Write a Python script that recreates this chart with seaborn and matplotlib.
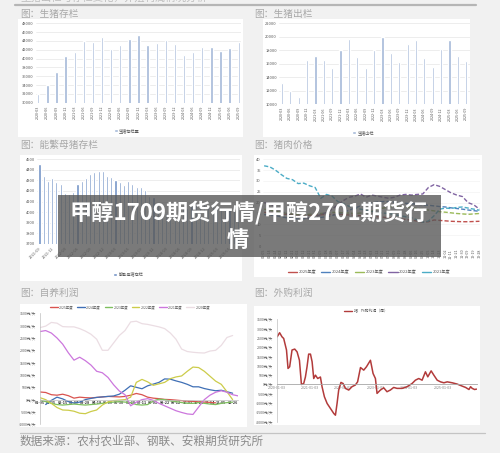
import pandas as pd
import matplotlib.pyplot as plt
import seaborn as sns
from matplotlib.patches import Rectangle
from matplotlib.lines import Line2D

sns.set_style('white')
plt.rcParams['font.family'] = ['Noto Sans CJK SC', 'DejaVu Sans']
plt.rcParams['axes.unicode_minus'] = False

# --- 数据 ---
# 生猪存栏 (季度, 万头)
stock_quarters = ['2020-03', '2020-06', '2020-09', '2020-12', '2021-03', '2021-06', '2021-09', '2021-12',
                  '2022-03', '2022-06', '2022-09', '2022-12', '2023-03', '2023-06', '2023-09', '2023-12',
                  '2024-03', '2024-06', '2024-09', '2024-12', '2025-03', '2025-06', '2025-09']
hog_stock = [32000, 34000, 37000, 40600, 41600, 44000, 43800, 45000, 42200, 43000, 44400, 45300,
             43000, 43500, 44300, 43400, 40800, 41500, 42600, 42700, 41700, 42400, 43700]
# 生猪出栏 (季度, 万头)
hog_slaughter = [13100, 12000, 11100, 16500, 17100, 16600, 15400, 18000, 19600, 17000, 15400, 18000,
                 19900, 17600, 16200, 18900, 19500, 16900, 15600, 18200, 19500, 17100, 16400]
# 能繁母猪存栏 (月度, 万头)
sow_months = ['2021-09', '2021-10', '2021-11', '2021-12', '2022-01', '2022-02', '2022-03', '2022-04',
              '2022-05', '2022-06', '2022-07', '2022-08', '2022-09', '2022-10', '2022-11', '2022-12',
              '2023-01', '2023-02', '2023-03', '2023-04', '2023-05', '2023-06', '2023-07', '2023-08',
              '2023-09', '2023-10', '2023-11', '2023-12', '2024-01', '2024-02', '2024-03', '2024-04',
              '2024-05', '2024-06', '2024-07', '2024-08', '2024-09', '2024-10', '2024-11', '2024-12',
              '2025-01', '2025-02', '2025-03', '2025-04', '2025-05', '2025-06', '2025-07', '2025-08']
sow_stock = [4459, 4340, 4292, 4325, 4285, 4265, 4180, 4170, 4188, 4268, 4290, 4322,
             4360, 4378, 4385, 4385, 4345, 4330, 4300, 4282, 4256, 4290, 4262, 4240,
             4238, 4210, 4155, 4142, 4067, 3986, 3992, 3986, 3996, 4038, 4042, 4036,
             4062, 4073, 4080, 4078, 4062, 4066, 4039, 4038, 4042, 4043, 4042, 4038]
# 猪肉价格 (元/公斤)
price_dates = ['01-05', '01-14', '01-24', '02-02', '02-12', '02-21', '03-02', '03-12', '03-21', '03-31',
               '04-09', '04-18', '04-28', '05-07', '05-17', '05-26', '06-04', '06-14', '06-23', '07-03',
               '07-12', '07-21', '07-31', '08-09', '08-19', '08-28', '09-06', '09-16', '09-25', '10-05',
               '10-14', '10-23', '11-02', '11-11', '11-21', '11-30', '12-09', '12-19', '12-28']
price_2025 = [15.5, 15.3, 15.0, 14.8, 14.6, 14.5, 14.3, 14.2, 14.2, 14.3, 14.4, 14.5, 14.5, 14.6, 14.5,
              14.3, 14.2, 14.0, 13.8, 13.6, 13.5, 13.3, 13.0, 12.8, 12.5, 12.2, 12.0, 11.5, 11.0, 11.2,
              12.0, 11.8, 11.6, 11.4, 11.3, 11.2, 11.2, 11.3, 11.4]
price_2024 = [14.5, 14.3, 14.0, 13.5, 13.0, 12.8, 12.5, 12.6, 12.8, 13.0, 13.2, 13.5, 14.0, 14.8, 15.5,
              16.5, 17.5, 18.5, 19.2, 19.8, 20.3, 20.5, 20.5, 20.2, 19.9, 19.7, 19.5, 19.3, 19.0, 18.8,
              18.5, 18.2, 18.0, 17.6, 17.3, 17.0, 16.6, 16.3, 16.0]
price_2023 = [17.0, 16.5, 16.0, 15.5, 15.0, 14.8, 14.5, 14.5, 14.6, 14.8, 15.0, 15.2, 15.5, 15.5, 15.3,
              15.2, 15.0, 15.2, 15.5, 16.0, 17.0, 17.5, 18.0, 18.3, 18.2, 18.0, 17.7, 17.3, 17.0, 16.6,
              16.2, 15.8, 15.6, 15.3, 15.0, 14.8, 14.6, 14.8, 15.0]
price_2022 = [20.0, 19.5, 18.0, 16.0, 15.0, 14.0, 13.5, 13.0, 13.0, 13.5, 14.5, 15.5, 17.0, 19.0, 21.0,
              22.5, 23.0, 24.0, 22.5, 23.5, 23.0, 22.5, 22.0, 22.5, 23.5, 23.8, 23.5, 23.8, 24.0, 27.0,
              28.3, 27.5, 26.0, 24.5, 23.5, 22.8, 20.0, 19.0, 17.0]
price_2021 = [37.0, 36.5, 35.0, 33.0, 31.2, 30.6, 28.8, 29.0, 27.8, 27.0, 22.0, 23.8, 23.0, 20.5, 19.5,
              18.3, 17.5, 17.0, 16.5, 16.0, 15.5, 15.2, 15.0, 14.5, 14.0, 13.5, 13.0, 12.0, 11.0, 11.5,
              14.0, 17.0, 17.5, 17.3, 17.8, 18.0, 17.5, 17.0, 16.5]
price_years = ['2025年度', '2024年度', '2023年度', '2022年度', '2021年度']
# 自养利润 (元/头)
self_dates = ['01-05', '01-25', '02-15', '03-07', '03-28', '04-18', '05-09', '05-30', '06-20',
              '07-11', '08-01', '08-22', '09-12', '10-03', '10-24', '11-14', '12-05', '12-26']
self_2025 = [310, 290, 200, 180, 220, 160, 60, 100, 80, 70, 90, 110, 130, 120, 110, 130, 180, 250,
             200, 100, 60, 40, 10, 0, -20, -40, -60, -70, -90, -100, -110, -130, None, None, None, None]
self_2024 = [None, -200, -30, 100, 30, -80, -140, -100, 0, 50, 90, 110, 130, 150, 220, 380, 560, 500,
             440, 560, 630, 700, 840, 830, 760, 700, 620, 520, 520, 450, 400, 360, 380, 320, 260, None]
self_2023 = [-20, -80, -150, -200, -220, -200, -180, -200, -220, -200, -180, -150, -120, -100, -80, -100,
             -120, -200, -220, -200, -50, 20, 0, -50, -80, -120, -150, -150, -120, -150, -180, -200,
             -150, -120, -100, None]
self_2022 = [80, 0, -150, -320, -420, -430, -470, -550, -570, -480, -420, -220, -90, -40, -20, 0, 100,
             700, 820, 720, 580, 640, 700, 850, 920, 960, 1150, 1320, 1300, 1150, 950, 750, 620, 320,
             0, None]
self_2021 = [2760, 2800, 2700, 2500, 2250, 1900, 1600, 1720, 1580, 1400, 1150, 1090, 900, 600, 350, 200,
             -250, -100, 0, 40, -30, -150, -250, -350, -450, -520, -580, -600, -300, 0, 180, 300, 360,
             300, 200, 150]
self_2020 = [2920, 2980, 3130, 3100, 2960, 2950, 2950, 2880, 2780, 2650, 2450, 2000, 2000, 2300, 2600,
             2800, 3150, 3180, 3080, 3050, 3000, 2950, 2880, 2700, 2450, 2050, 1950, 1920, 1900, 1890,
             1970, 2000, 2200, 2520, 2600, None]
self_years = ['2025年度', '2024年度', '2023年度', '2022年度', '2021年度', '2020年度']
# 外购利润 (元/头)
buy_dates = ['2020-01-03', '2020-01-30', '2020-02-25', '2020-03-15', '2020-04-15', '2020-05-02',
             '2020-05-20', '2020-06-15', '2020-07-15', '2020-08-10', '2020-09-05', '2020-09-27',
             '2020-10-22', '2020-11-10', '2020-11-28', '2020-12-16', '2021-01-05', '2021-01-23',
             '2021-02-10', '2021-03-01', '2021-03-26', '2021-04-25', '2021-05-13', '2021-06-08',
             '2021-07-08', '2021-08-14', '2021-09-20', '2021-10-08', '2021-10-26', '2021-11-13',
             '2021-12-08', '2022-01-01', '2022-01-26', '2022-03-04', '2022-04-09', '2022-05-16',
             '2022-06-10', '2022-07-12', '2022-08-17', '2022-09-16', '2022-10-30', '2022-11-28',
             '2022-12-24', '2023-01-11', '2023-02-17', '2023-03-26', '2023-05-01', '2023-06-07',
             '2023-07-14', '2023-08-20', '2023-10-15', '2023-12-09', '2024-02-02', '2024-03-10',
             '2024-04-16', '2024-05-23', '2024-06-29', '2024-07-25', '2024-08-31', '2024-09-30',
             '2024-11-06', '2024-12-13', '2025-01-19', '2025-02-25', '2025-04-21', '2025-06-15',
             '2025-08-10', '2025-09-16', '2025-10-23', '2025-11-10', '2025-11-28', '2025-12-24',
             '2026-01-15']
buy_profit = [2560, 2780, 2560, 2470, 1850, 860, 950, 1850, 1900, 1750, 1300, 0,
              50, 400, 950, 1630, 1630, 1220, 320, 500, 320, 400, -120, -660,
              -1020, -1290, -1560, -1650, -1020, -300, 110, 50, -210, -300, -120, -30,
              140, 910, 770, 950, 1300, 590, 320, -480, -300, -180, -390, -300,
              -160, -210, -210, -120, 50, 230, 320, 230, 680, 410, 730, 500,
              230, 140, 90, 140, 90, 20, -90, -160, -270, -120, -210, -270, -250]
buy_ticks = ['2020-01-03', '2021-01-03', '2022-01-03', '2023-01-03', '2024-01-03', '2025-01-03']

# --- 画布 (像素坐标换算) ---
W, H = 500, 453
fig = plt.figure(figsize=(5, 4.53), dpi=100)
fig.patch.set_facecolor('#f1f1f1')


def box(l, t, r, b, **kw):
    fig.add_artist(Rectangle((l / W, 1 - b / H), (r - l) / W, (b - t) / H,
                             transform=fig.transFigure, **kw))


def px_axes(l, t, r, b):
    ax = fig.add_axes([l / W, 1 - b / H, (r - l) / W, (b - t) / H])
    ax.set_facecolor('white')
    for s in ax.spines.values():
        s.set_visible(False)
    ax.tick_params(length=0, labelsize=2.9, labelcolor='#595959', pad=1.5)
    return ax


def fig_title(x, y, s):
    fig.text(x / W, 1 - y / H, s, fontsize=7, color='#a8a8a8', va='center', ha='left')


def hline(x0, x1, y, color, lw):
    fig.add_artist(Line2D([x0 / W, x1 / W], [1 - y / H, 1 - y / H], transform=fig.transFigure,
                          color=color, lw=lw))


# 白色面板
for (l, t, r, b) in [(18, 19, 243, 137), (263, 19, 470, 137), (20, 155, 242, 281),
                     (254, 155, 482, 277), (20, 304, 247, 427), (254, 306, 480, 425)]:
    box(l, t, r, b, facecolor='white', edgecolor='none', zorder=-1)

# 顶部残留文字与分隔线
fig.text(20 / W, 1 + 2.5 / H, '生猪出栏与存栏变化，养殖利润情况分析', fontsize=7.5,
         color='#bdbdbd', va='center', ha='left')
hline(15, 476, 4.7, '#b5b5b5', 1.6)
hline(20, 485, 432.7, '#c4c4c4', 0.9)

fig_title(20, 13.5, '图：生猪存栏')
fig_title(254, 13.5, '图：生猪出栏')
fig_title(20, 145, '图：能繁母猪存栏')
fig_title(254, 145, '图：猪肉价格')
fig_title(20, 293, '图：自养利润')
fig_title(254, 293, '图：外购利润')
fig.text(20 / W, 1 - 441.5 / H, '数据来源：农村农业部、钢联、安粮期货研究所', fontsize=8.4,
         color='#8a8a8a', va='center', ha='left')

grid_kw = dict(color='#e6e6e6', lw=0.5)
leg_kw = dict(frameon=False, fontsize=3, labelcolor='#595959', handlelength=0.8, handleheight=0.8,
              handletextpad=0.4, borderpad=0, loc='center')

# 1. 生猪存栏
ax1 = px_axes(36, 23.3, 241, 102.7)
sns.barplot(x=stock_quarters, y=hog_stock, color='#a3b8d8', saturation=1, width=0.26,
            label='生猪存栏量', ax=ax1)
ax1.set_ylim(30000, 48000)
ax1.set_yticks(range(30000, 48001, 2000))
ax1.set_xlim(-0.25, 22.25)
ax1.yaxis.grid(True, **grid_kw)
ax1.set_axisbelow(True)
ax1.tick_params(axis='x', rotation=90, labelsize=2.7, pad=2)
ax1.legend(bbox_to_anchor=(0.444, -0.356), **leg_kw)

# 2. 生猪出栏
ax2 = px_axes(279, 23.3, 470, 104.3)
sns.barplot(x=stock_quarters, y=hog_slaughter, color='#a3b8d8', saturation=1, width=0.26,
            label='生猪出栏', ax=ax2)
ax2.set_ylim(10000, 22000)
ax2.set_yticks(range(10000, 22001, 2000))
ax2.set_xlim(-0.35, 22.45)
ax2.yaxis.grid(True, **grid_kw)
ax2.set_axisbelow(True)
ax2.tick_params(axis='x', rotation=90, labelsize=2.7, pad=2)
ax2.legend(bbox_to_anchor=(0.44, -0.35), **leg_kw)

# 3. 能繁母猪存栏
ax3 = px_axes(37, 159.3, 240, 243.7)
sns.barplot(x=sow_months, y=sow_stock, color='#7393c6', saturation=1, width=0.5,
            label='能繁母猪存栏', ax=ax3)
ax3.set_ylim(3700, 4500)
ax3.set_yticks(range(3700, 4501, 100))
ax3.set_xlim(-0.6, 47.5)
ax3.set_xticks(range(0, 48, 3))
ax3.set_xticklabels(sow_months[::3], rotation=45, ha='right', rotation_mode='anchor')
ax3.tick_params(axis='x', labelsize=2.8, pad=2)
ax3.yaxis.grid(True, **grid_kw)
ax3.set_axisbelow(True)
ax3.legend(bbox_to_anchor=(0.45, -0.363), **leg_kw)

# 4. 猪肉价格
ax4 = px_axes(263, 159.3, 480, 246)
price_colors = ['#c0504d', '#4f81bd', '#9bbb59', '#8064a2', '#4bacc6']
price_series = [price_2025, price_2024, price_2023, price_2022, price_2021]
idx = list(range(len(price_dates)))
for name, vals, col in zip(price_years, price_series, price_colors):
    sns.lineplot(x=idx, y=vals, color=col, lw=1.0, linestyle=(0, (3, 1.5)), ax=ax4)
ax4.set_ylim(0, 40)
ax4.set_yticks(range(0, 41, 5))
ax4.set_xlim(-0.2, 38.1)
ax4.set_xticks(idx)
ax4.set_xticklabels(price_dates, rotation=90)
ax4.tick_params(axis='x', labelsize=2.7, pad=2)
ax4.yaxis.grid(True, color='#f0f0f0', lw=0.4)
ax4.set_axisbelow(True)
handles4 = [Line2D([], [], color=c, lw=1.0) for c in price_colors]
ax4.legend(handles4, price_years, ncol=5, columnspacing=1.2, bbox_to_anchor=(0.489, -0.30),
           **{**leg_kw, 'handlelength': 2.2})

# 5. 自养利润
ax5 = px_axes(40, 313.3, 238.3, 424.3)
self_colors = ['#d9534f', '#3f6fb5', '#7fbf5f', '#cccc4a', '#cc77dd', '#ebdde3']
self_series = [self_2025, self_2024, self_2023, self_2022, self_2021, self_2020]
sidx = list(range(len(self_2020)))
for name, vals, col in zip(self_years, self_series, self_colors):
    sns.lineplot(x=sidx, y=vals, color=col, lw=0.9, ax=ax5)
ax5.set_xlim(0, 35)
ax5.set_ylim(-1000, 3500)
yt5 = [3500, 3000, 2500, 2000, 1500, 1000, 500, 0, -500, -1000]
ax5.set_yticks(yt5)
ax5.set_yticklabels([f'{v}元/头' for v in yt5])
ax5.set_xticks(range(0, 36, 2))
ax5.set_xticklabels(self_dates)
ax5.spines['left'].set_visible(True)
ax5.spines['left'].set_color('#bfbfbf')
ax5.spines['left'].set_linewidth(0.5)
ax5.spines['bottom'].set_visible(True)
ax5.spines['bottom'].set_position(('data', 0))
ax5.spines['bottom'].set_color('#bfbfbf')
ax5.spines['bottom'].set_linewidth(0.5)
ax5.tick_params(axis='y', labelsize=2.6, length=1.2, width=0.4, color='#bfbfbf')
ax5.tick_params(axis='x', labelsize=2.7, labelcolor='#333333', pad=0.8)
for t in ax5.get_xticklabels():
    t.set_fontweight('bold')
handles5 = [Line2D([], [], color=c, lw=1.0) for c in self_colors]
ax5.legend(handles5, self_years, ncol=6, columnspacing=1.0, bbox_to_anchor=(0.454, 1.055),
           **{**leg_kw, 'fontsize': 2.5, 'handlelength': 2.2})

# 6. 外购利润
ax6 = px_axes(277, 319.3, 477, 421.7)
sns.lineplot(x=pd.to_datetime(buy_dates), y=buy_profit, color='#b23b3b', lw=1.1, ax=ax6)
ax6.set_xlim(pd.Timestamp('2020-01-01'), pd.Timestamp('2026-01-20'))
ax6.set_ylim(-2000, 3500)
yt6 = [3500, 3000, 2500, 2000, 1500, 1000, 500, 0, -500, -1000, -1500, -2000]
ax6.set_yticks(yt6)
ax6.set_yticklabels([f'{v}元/头' for v in yt6])
ax6.set_xticks(pd.to_datetime(buy_ticks))
ax6.set_xticklabels(buy_ticks)
ax6.spines['left'].set_visible(True)
ax6.spines['left'].set_color('#bfbfbf')
ax6.spines['left'].set_linewidth(0.5)
ax6.spines['bottom'].set_visible(True)
ax6.spines['bottom'].set_position(('data', 0))
ax6.spines['bottom'].set_color('#a6a6a6')
ax6.spines['bottom'].set_linewidth(0.6)
ax6.tick_params(axis='y', labelsize=2.6, length=1.2, width=0.4, color='#bfbfbf')
ax6.tick_params(axis='x', labelsize=2.6, labelcolor='#7f7f7f', pad=0.8)
ax6.legend([Line2D([], [], color='#b23b3b', lw=1.0)], ['猪：外购利润（周）'],
           bbox_to_anchor=(0.445, 1.075), **{**leg_kw, 'fontsize': 2.8, 'handlelength': 2.2})

for ax in (ax1, ax2, ax3, ax4, ax5, ax6):
    ax.set_xlabel('')
    ax.set_ylabel('')

# 标题横幅
box(58, 195, 441, 257, facecolor='#555555', alpha=0.78, edgecolor='none', zorder=10)
fig.text(249 / W, 1 - 213 / H, '甲醇1709期货行情/甲醇2701期货行', fontsize=16, fontweight='bold',
         color='white', ha='center', va='center', zorder=11)
fig.text(238 / W, 1 - 240 / H, '情', fontsize=16, fontweight='bold',
         color='white', ha='center', va='center', zorder=11)

fig.savefig('out.png', dpi=100, facecolor=fig.get_facecolor())
